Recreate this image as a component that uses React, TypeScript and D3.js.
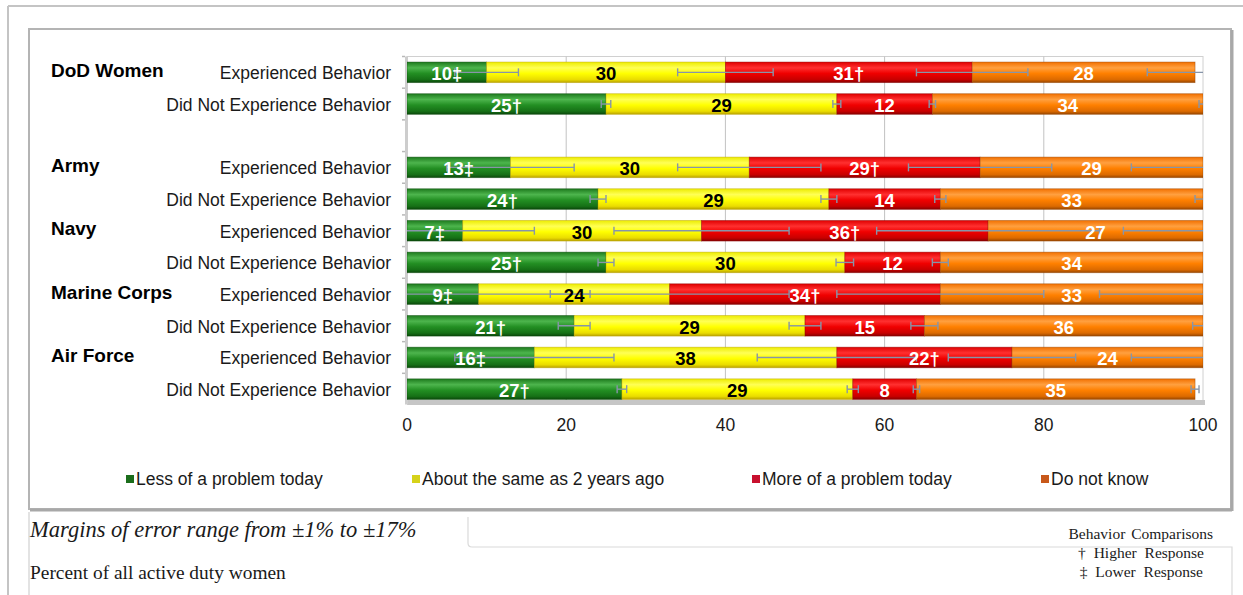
import React from 'react';
import * as d3 from 'd3';

// rows of the chart (a blank spacer row sits between DoD Women and Army)
const rowIds = ['dodExp', 'dodNot', 'gap', 'armyExp', 'armyNot', 'navyExp', 'navyNot', 'mcExp', 'mcNot', 'afExp', 'afNot'];
const rowLabels = ['Experienced Behavior', 'Did Not Experience Behavior', '', 'Experienced Behavior', 'Did Not Experience Behavior', 'Experienced Behavior', 'Did Not Experience Behavior', 'Experienced Behavior', 'Did Not Experience Behavior', 'Experienced Behavior', 'Did Not Experience Behavior'];
const groupNames = ['DoD Women', 'Army', 'Navy', 'Marine Corps', 'Air Force'];
const groupRows = ['dodExp', 'armyExp', 'navyExp', 'mcExp', 'afExp'];

const seriesNames = ['Less of a problem today', 'About the same as 2 years ago', 'More of a problem today', 'Do not know'];

const lessValues = [10, 25, null, 13, 24, 7, 25, 9, 21, 16, 27];
const sameValues = [30, 29, null, 30, 29, 30, 30, 24, 29, 38, 29];
const moreValues = [31, 12, null, 29, 14, 36, 12, 34, 15, 22, 8];
const dkValues = [28, 34, null, 29, 33, 27, 34, 33, 36, 24, 35];

// margins of error drawn at the end of each segment
const lessErr = [4, 0.6, null, 8, 1, 9, 1, 14, 2, 10, 0.6];
const sameErr = [6, 0.5, null, 9, 1, 11, 1.1, 15, 2, 10, 0.7];
const moreErr = [7, 0.4, null, 9, 0.7, 14, 1, 13, 1.7, 8, 0.4];
const dkErr = [6, 0.5, null, 10, 1, 10, 0.5, 13, 2.3, 9, 0.5];

// behavior comparison marks
const lessMarks = ['‡', '†', '', '‡', '†', '‡', '†', '‡', '†', '‡', '†'];
const moreMarks = ['†', '', '', '†', '', '†', '', '†', '', '†', ''];
const emptyMarks = ['', '', '', '', '', '', '', '', '', '', ''];

const W = 1243;
const H = 595;
const SANS = '"Liberation Sans", Arial, sans-serif';
const SERIF = '"Liberation Serif", "Times New Roman", serif';

const series = [
  { key: 'less', values: lessValues, err: lessErr, marks: lessMarks, text: '#ffffff', swatch: '#1b6d1b',
    stops: ['#1d7a1d', '#4db54d', '#238f23', '#167016', '#0b480b'] },
  { key: 'same', values: sameValues, err: sameErr, marks: emptyMarks, text: '#000000', swatch: '#d6d21a',
    stops: ['#ecec00', '#ffff55', '#ffff00', '#eadc00', '#b9a200'] },
  { key: 'more', values: moreValues, err: moreErr, marks: moreMarks, text: '#ffffff', swatch: '#c8102e',
    stops: ['#e00000', '#ff3030', '#f00000', '#c80000', '#870000'] },
  { key: 'dk', values: dkValues, err: dkErr, marks: emptyMarks, text: '#ffffff', swatch: '#c8581a',
    stops: ['#f27000', '#ffa040', '#ff8000', '#dc6a00', '#984600'] },
];

const legendX = [136, 422, 762, 1051];

const App: React.FC = () => {
  const x = d3.scaleLinear().domain([0, 100]).range([407, 1203]);
  const y = d3.scaleBand().domain(rowIds).range([56.5, 405]).paddingInner(0.35).paddingOuter(0.175);
  const bw = y.bandwidth();
  const ticks = x.ticks(5);

  // stacked segments
  const stackRows = rowIds.map((id, i) => {
    let acc = 0;
    return series.map((s) => {
      const v = s.values[i];
      if (v == null) return null;
      const x0 = acc;
      acc += v;
      return { id, i, s, v, x0, x1: acc };
    });
  });
  const segs: any[] = stackRows.flat().filter(Boolean);

  const errColor = '#8795a9';

  return (
    <div style={{ position: 'absolute', left: 0, top: 0 }}>
      <svg width={W} height={H} style={{ display: 'block', background: '#fff' }}>
        <defs>
          {series.map((s) => (
            <linearGradient key={s.key} id={`g-${s.key}`} x1="0" y1="0" x2="0" y2="1">
              <stop offset="0" stopColor={s.stops[0]} />
              <stop offset="0.28" stopColor={s.stops[1]} />
              <stop offset="0.55" stopColor={s.stops[2]} />
              <stop offset="0.85" stopColor={s.stops[3]} />
              <stop offset="1" stopColor={s.stops[4]} />
            </linearGradient>
          ))}
          <clipPath id="plot-clip">
            <rect x={x(0)} y={50} width={x(100) - x(0)} height={360} />
          </clipPath>
        </defs>

        {/* outer frame */}
        <line x1={8} y1={6} x2={W} y2={6} stroke="#c4c4c4" strokeWidth={2} />
        <line x1={8} y1={6} x2={8} y2={H} stroke="#c4c4c4" strokeWidth={2} />

        {/* chart box */}
        <rect x={29} y={29} width={1202} height={480} fill="#fff" stroke="#b4b4b4" strokeWidth={2} />
        <line x1={30} y1={510} x2={1232} y2={510} stroke="#a8a8a8" strokeWidth={3} />
        <line x1={1232} y1={30} x2={1232} y2={511} stroke="#a8a8a8" strokeWidth={3} />

        {/* plot area */}
        <rect x={x(0)} y={56.5} width={x(100) - x(0)} height={345} fill="none" stroke="#d0d0d0" strokeWidth={1} />
        {ticks.filter((t) => t > 0 && t < 100).map((t) => (
          <line key={t} x1={x(t)} x2={x(t)} y1={56.5} y2={401} stroke="#c2c2c2" strokeWidth={1} />
        ))}
        <rect x={x(0)} y={400} width={x(100) - x(0) + 2} height={5} fill="#c6c6c6" />
        <rect x={x(0) - 2} y={56.5} width={3} height={348} fill="#cdcdcd" />
        {rowIds.map((id) => (
          <line key={id} x1={x(0) - 5} x2={x(0) - 2} y1={(y(id) as number) - (y.step() - bw) / 2} y2={(y(id) as number) - (y.step() - bw) / 2} stroke="#b8b8b8" strokeWidth={1.5} />
        ))}

        {/* bars */}
        <g clipPath="url(#plot-clip)">
          {segs.map((d) => (
            <rect
              key={`${d.id}-${d.s.key}`}
              x={x(d.x0)}
              y={y(d.id)}
              width={x(Math.min(d.x1, 100)) - x(d.x0)}
              height={bw}
              fill={`url(#g-${d.s.key})`}
              stroke={d.s.stops[4]}
              strokeOpacity={0.55}
              strokeWidth={0.8}
            />
          ))}
          {/* error bars */}
          {segs.map((d) => {
            const e = d.s.err[d.i];
            const cy = (y(d.id) as number) + bw / 2;
            const lo = x(d.x1 - e);
            const hi = x(d.x1 + e);
            return (
              <g key={`e-${d.id}-${d.s.key}`} stroke={errColor} strokeWidth={1.4}>
                <line x1={lo} x2={hi} y1={cy} y2={cy} />
                <line x1={lo} x2={lo} y1={cy - 4} y2={cy + 4} />
                <line x1={hi} x2={hi} y1={cy - 4} y2={cy + 4} />
              </g>
            );
          })}
        </g>

        {/* value labels */}
        {segs.map((d) => (
          <text
            key={`t-${d.id}-${d.s.key}`}
            x={x((d.x0 + Math.min(d.x1, 100)) / 2)}
            y={(y(d.id) as number) + bw / 2 + 1.5}
            textAnchor="middle"
            dominantBaseline="central"
            fontFamily={SANS}
            fontWeight="bold"
            fontSize={18.5}
            fill={d.s.text}
          >
            {`${d.v}${d.s.marks[d.i]}`}
          </text>
        ))}

        {/* row labels */}
        {rowIds.map((id, i) => (
          <text key={`l-${id}`} x={391} y={(y(id) as number) + bw / 2 + 1} textAnchor="end" dominantBaseline="central" fontFamily={SANS} fontSize={17.5} fill="#1a1a1a">
            {rowLabels[i]}
          </text>
        ))}
        {groupNames.map((g, i) => (
          <text key={g} x={51} y={(y(groupRows[i]) as number) + bw / 2 - 2} dominantBaseline="central" fontFamily={SANS} fontWeight="bold" fontSize={19} fill="#000">
            {g}
          </text>
        ))}

        {/* x axis labels */}
        {ticks.map((t) => (
          <text key={`x-${t}`} x={x(t)} y={425} textAnchor="middle" dominantBaseline="central" fontFamily={SANS} fontSize={17.5} fill="#1a1a1a">
            {t}
          </text>
        ))}

        {/* legend */}
        {series.map((s, i) => (
          <g key={`lg-${s.key}`}>
            <rect x={legendX[i] - 10} y={475} width={8} height={8} fill={s.swatch} />
            <text x={legendX[i]} y={479} dominantBaseline="central" fontFamily={SANS} fontSize={17.5} fill="#1a1a1a">
              {seriesNames[i]}
            </text>
          </g>
        ))}

        {/* notes below */}
        <line x1={29} y1={512} x2={29} y2={H} stroke="#d0d0d0" strokeWidth={1.2} />
        <path d="M468,517 L468,543 Q468,547 472,547 L1232,547 L1232,595" fill="none" stroke="#dadada" strokeWidth={1.2} />
        <text x={30} y={537} fontFamily={SERIF} fontStyle="italic" fontSize={22.5} fill="#1a1a1a">
          Margins of error range from ±1% to ±17%
        </text>
        <text x={30} y={579} fontFamily={SERIF} fontSize={19.4} fill="#1a1a1a">
          Percent of all active duty women
        </text>
        <text x={1213} y={539} textAnchor="end" fontFamily={SERIF} fontSize={15.5} wordSpacing={2} fill="#1a1a1a">
          Behavior Comparisons
        </text>
        <text x={1204} y={558} textAnchor="end" fontFamily={SERIF} fontSize={15.5} wordSpacing={4} fill="#1a1a1a">
          † Higher Response
        </text>
        <text x={1203} y={577} textAnchor="end" fontFamily={SERIF} fontSize={15.5} wordSpacing={4} fill="#1a1a1a">
          ‡ Lower Response
        </text>
      </svg>
    </div>
  );
};

export default App;
